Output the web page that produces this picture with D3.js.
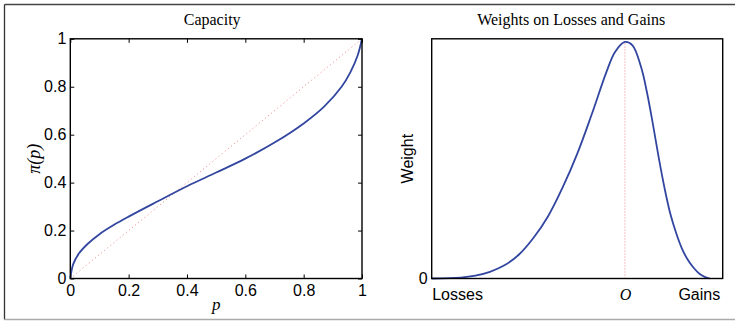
<!DOCTYPE html>
<html><head><meta charset="utf-8">
<script src="https://cdn.jsdelivr.net/npm/d3@7"></script>
<style>body{margin:0;background:#fff}svg{display:block}</style>
</head><body>
<svg id="c" width="735" height="321"></svg>
<script>
// ---- data ----
const capP   = [0,0.01,0.03,0.06,0.1,0.15,0.2,0.3,0.4,0.5,0.6,0.7,0.8,0.87,0.93,0.96,0.985,1];
const capPi  = [0,0.06,0.105,0.145,0.185,0.224,0.258,0.322,0.385,0.442,0.5,0.567,0.647,0.717,0.8,0.86,0.93,1];
const capTicks = [0,0.2,0.4,0.6,0.8,1];
const wX = [0,0.1,0.15,0.2,0.25,0.3,0.35,0.4,0.45,0.5,0.55,0.6,0.63,0.664,0.69,0.72,0.74,0.76,0.78,0.8,0.82,0.84,0.86,0.88,0.9,0.92,0.94,0.956];
const wY = [0,0.004,0.012,0.028,0.055,0.1,0.17,0.26,0.38,0.52,0.685,0.86,0.945,0.987,0.973,0.88,0.775,0.645,0.505,0.378,0.27,0.19,0.125,0.078,0.045,0.02,0.006,0];
const wXTickVals = [0,0.664,1];
const wXTickLabels = ["Losses","O","Gains"];
const wYTickVals = [0];
const titles = ["Capacity","Weights on Losses and Gains"];

const svg = d3.select("#c");
const blue = "#3246a0", red = "#f08080";
const sans = "Liberation Sans, Arial, Helvetica, sans-serif";
const serif = "Liberation Serif, Times New Roman, serif";

// figure frame
svg.append("line").attr("x1",4.5).attr("x2",735).attr("y1",4.5).attr("y2",4.5).attr("stroke","#444").attr("stroke-width",1.3);
svg.append("line").attr("x1",4.5).attr("x2",4.5).attr("y1",4.5).attr("y2",319.5).attr("stroke","#333").attr("stroke-width",1.3);
svg.append("line").attr("x1",4.5).attr("x2",735).attr("y1",319.5).attr("y2",319.5).attr("stroke","#aaa").attr("stroke-width",1.3);

const smooth = d3.curveCatmullRom.alpha(0.5);

// ---- left panel ----
const L = {x0:70.3, x1:362, y0:278.5, y1:38.8};
const x1 = d3.scaleLinear().domain([0,1]).range([L.x0,L.x1]);
const y1 = d3.scaleLinear().domain([0,1]).range([L.y0,L.y1]);
const g1 = svg.append("g");

g1.append("line").attr("x1",x1(0)).attr("y1",y1(0)).attr("x2",x1(1)).attr("y2",y1(1))
  .attr("stroke",red).attr("stroke-width",1).attr("stroke-dasharray","1,3");
g1.append("path").datum(capP.map((p,i)=>[p,capPi[i]]))
  .attr("d",d3.line().x(d=>x1(d[0])).y(d=>y1(d[1])).curve(smooth))
  .attr("fill","none").attr("stroke",blue).attr("stroke-width",1.8);

function styleAxis(g){
  g.select(".domain").remove();
  g.selectAll(".tick line").attr("stroke","#000").attr("stroke-width",1);
  g.selectAll(".tick text").attr("fill","#000").style("font-family",sans).style("font-size","16px");
}
const fmt = d=>d===0?"0":d===1?"1":String(d);
const ax1b = g1.append("g").attr("transform",`translate(0,${L.y0})`)
  .call(d3.axisBottom(x1).tickValues(capTicks).tickFormat(fmt).tickSizeInner(-4).tickSizeOuter(0).tickPadding(6));
styleAxis(ax1b);
const ax1t = g1.append("g").attr("transform",`translate(0,${L.y1})`)
  .call(d3.axisTop(x1).tickValues(capTicks).tickFormat("").tickSizeInner(-4).tickSizeOuter(0));
styleAxis(ax1t);
const ax1l = g1.append("g").attr("transform",`translate(${L.x0},0)`)
  .call(d3.axisLeft(y1).tickValues(capTicks).tickFormat(fmt).tickSizeInner(-4).tickSizeOuter(0).tickPadding(4));
styleAxis(ax1l);
const ax1r = g1.append("g").attr("transform",`translate(${L.x1},0)`)
  .call(d3.axisRight(y1).tickValues(capTicks).tickFormat("").tickSizeInner(-4).tickSizeOuter(0));
styleAxis(ax1r);
g1.append("rect").attr("x",L.x0).attr("y",L.y1).attr("width",L.x1-L.x0).attr("height",L.y0-L.y1)
  .attr("fill","none").attr("stroke","#000").attr("stroke-width",1.4);

g1.append("text").attr("x",(L.x0+L.x1)/2-4).attr("y",25).attr("text-anchor","middle")
  .style("font-family",serif).style("font-size","16px").text(titles[0]);
g1.append("text").attr("x",(L.x0+L.x1)/2).attr("y",310).attr("text-anchor","middle")
  .style("font-family",serif).style("font-style","italic").style("font-size","17px").text("p");
g1.append("text").attr("transform",`translate(40,${(L.y0+L.y1)/2}) rotate(-90)`).attr("text-anchor","middle")
  .style("font-family",serif).style("font-style","italic").style("font-size","18px").text("π(p)");

// ---- right panel ----
const R = {x0:431.7, x1:722.7, y0:278.5, y1:38.8};
const x2 = d3.scaleLinear().domain([0,1]).range([R.x0,R.x1]);
const y2 = d3.scaleLinear().domain([0,1]).range([R.y0,R.y1]);
const g2 = svg.append("g");

const peakI = d3.maxIndex(wY);
g2.append("line").attr("x1",x2(wX[peakI])).attr("x2",x2(wX[peakI])).attr("y1",y2(0)).attr("y2",y2(wY[peakI]))
  .attr("stroke",red).attr("stroke-width",1).attr("stroke-dasharray","1,2");
g2.append("path").datum(wX.map((v,i)=>[v,wY[i]]))
  .attr("d",d3.line().x(d=>x2(d[0])).y(d=>y2(d[1])).curve(smooth))
  .attr("fill","none").attr("stroke",blue).attr("stroke-width",1.8);

const ax2b = g2.append("g").attr("transform",`translate(0,${R.y0})`)
  .call(d3.axisBottom(x2).tickValues(wXTickVals).tickFormat((d,i)=>wXTickLabels[i]).tickSize(0).tickPadding(10));
styleAxis(ax2b);
ax2b.selectAll(".tick text")
  .attr("text-anchor",(d,i)=>i===0?"start":i===2?"end":"middle")
  .attr("x",(d,i)=>i===2?-3:0)
  .style("font-family",(d,i)=>i===1?serif:sans)
  .style("font-style",(d,i)=>i===1?"italic":"normal");
const ax2l = g2.append("g").attr("transform",`translate(${R.x0},0)`)
  .call(d3.axisLeft(y2).tickValues(wYTickVals).tickFormat(d=>"0").tickSize(0).tickPadding(4));
styleAxis(ax2l);
g2.append("rect").attr("x",R.x0).attr("y",R.y1).attr("width",R.x1-R.x0).attr("height",R.y0-R.y1)
  .attr("fill","none").attr("stroke","#000").attr("stroke-width",1.4);

g2.append("text").attr("x",(R.x0+R.x1)/2-6).attr("y",25).attr("text-anchor","middle")
  .style("font-family",serif).style("font-size","16px").text(titles[1]);
g2.append("text").attr("transform",`translate(413,${(R.y0+R.y1)/2}) rotate(-90)`).attr("text-anchor","middle")
  .style("font-family",sans).style("font-size","16px").text("Weight");
</script>
</body></html>
